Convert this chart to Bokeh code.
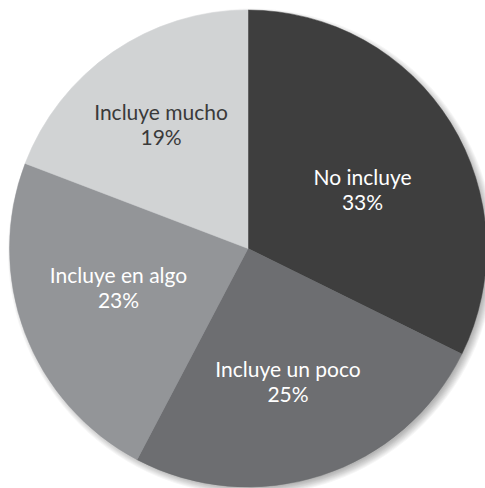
import numpy as np
from bokeh.plotting import figure
from bokeh.models import Range1d, ColumnDataSource
from bokeh.core.properties import value
from bokeh.embed import file_html
from bokeh.resources import INLINE

# Data
categories = ["No incluye", "Incluye un poco", "Incluye en algo", "Incluye mucho"]
values = [32.3, 25.4, 23.1, 19.2]
pct_labels = ["33%", "25%", "23%", "19%"]
colors = ["#3e3e3e", "#6d6e71", "#939598", "#d1d3d4"]
text_colors = ["#ffffff", "#ffffff", "#ffffff", "#3a3a3a"]

W, H = 485, 488
p = figure(width=W, height=H, output_backend="svg", toolbar_location=None,
           x_range=Range1d(0, W), y_range=Range1d(0, H), min_border=0)
p.axis.visible = False
p.grid.visible = False
p.outline_line_color = None
p.background_fill_color = "white"
p.border_fill_color = "white"

# Pie geometry (data units = pixels)
cx, cy = 247.5, H - 248
R = 238.5

# Soft shadow
for s in range(9):
    p.circle(x=cx + 3.5, y=cy - 3.5, radius=R - 3 + s, fill_color="black",
             fill_alpha=0.035, line_color=None)

vals = np.array(values, dtype=float)
frac = vals / vals.sum()
cum = np.concatenate([[0.0], np.cumsum(frac)])
start = np.pi / 2 - cum[:-1] * 2 * np.pi
end = np.pi / 2 - cum[1:] * 2 * np.pi
mid = (start + end) / 2

src = ColumnDataSource(dict(start=start, end=end, color=colors, cat=categories))
p.wedge(x=cx, y=cy, radius=R, start_angle="start", end_angle="end",
        direction="clock", fill_color="color", line_color="color",
        line_width=0.5, source=src)

# Label placement (layout constants)
label_r = [125.3, 147.0, 137.6, 144.6]
label_da = [-7.9, -2.2, -0.9, 2.4]
ang = mid + np.radians(label_da)
lx = cx + np.array(label_r) * np.cos(ang)
ly = cy + np.array(label_r) * np.sin(ang)

lsrc = ColumnDataSource(dict(x=lx, y=ly, name=categories, pct=pct_labels, tc=text_colors))
font = value("Lato")
p.text(x="x", y="y", text="name", source=lsrc, text_color="tc",
       text_font=font, text_font_size="21px", text_align="center",
       text_baseline="alphabetic", y_offset=-21)
p.text(x="x", y="y", text="pct", source=lsrc, text_color="tc",
       text_font=font, text_font_size="21px", text_align="center",
       text_baseline="alphabetic", y_offset=4)

open("out.html", "w").write(file_html(p, INLINE))
